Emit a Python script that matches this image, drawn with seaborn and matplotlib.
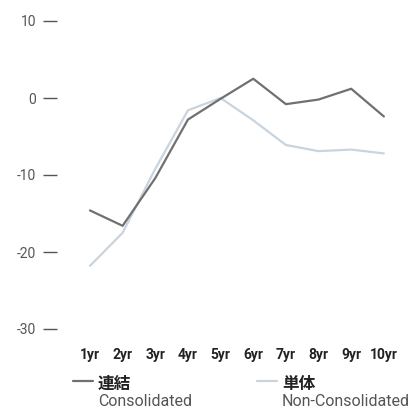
import matplotlib
matplotlib.use("Agg")
import matplotlib.pyplot as plt
from matplotlib.lines import Line2D
import pandas as pd
import seaborn as sns

sns.set_theme(style="white")
plt.rcParams["font.family"] = ["Roboto", "Noto Sans CJK JP", "DejaVu Sans"]

years = ["1yr", "2yr", "3yr", "4yr", "5yr", "6yr", "7yr", "8yr", "9yr", "10yr"]
consolidated = [-14.6, -16.6, -10.4, -2.8, -0.1, 2.5, -0.8, -0.2, 1.2, -2.4]
non_consolidated = [-21.8, -17.5, -9.2, -1.6, 0.0, -2.9, -6.1, -6.9, -6.7, -7.2]
y_ticks = [10, 0, -10, -20, -30]

c_cons = "#707070"
c_non = "#c9d4de"

df = pd.DataFrame({
    "year": years * 2,
    "value": consolidated + non_consolidated,
    "series": ["連結"] * len(years) + ["単体"] * len(years),
})

fig = plt.figure(figsize=(4.18, 4.09), dpi=100)
W, H = 418, 409
ax = fig.add_axes([57 / W, (H - 329) / H, (410 - 57) / W, 308 / H])

sns.lineplot(data=df, x="year", y="value", hue="series",
             palette={"連結": c_cons, "単体": c_non},
             hue_order=["単体", "連結"], linewidth=1.6, ax=ax,
             legend=False, sort=False)

ax.set_ylim(-30, 10)
ax.set_xlim(-1.01, 9.8)
ax.set_yticks(y_ticks)
ax.set_yticklabels([str(v) for v in y_ticks])
for s in ax.spines.values():
    s.set_visible(False)
ax.set_xlabel("")
ax.set_ylabel("")
ax.tick_params(axis="y", length=10, width=1, color="#555555", pad=5,
               labelsize=10, labelcolor="#555555", left=True)
ax.tick_params(axis="x", length=0, pad=14, labelsize=10, labelcolor="#222222")
for lab in ax.get_xticklabels():
    lab.set_fontweight("bold")

# legend
def legend_item(x0, color, jp, en):
    fig.add_artist(Line2D([x0 / W, (x0 + 20) / W], [1 - 381 / H, 1 - 381 / H],
                          color=color, lw=1.6, transform=fig.transFigure))
    fig.text((x0 + 25) / W, 1 - 384 / H, jp, fontsize=12, fontweight="bold",
             color="#222222", va="center", ha="left")
    fig.text((x0 + 25) / W, 1 - 402 / H, en, fontsize=11.5, color="#555555",
             va="center", ha="left")

legend_item(73, c_cons, "連結", "Consolidated")
legend_item(257, c_non, "単体", "Non-Consolidated")

fig.savefig("out.png", dpi=100)
